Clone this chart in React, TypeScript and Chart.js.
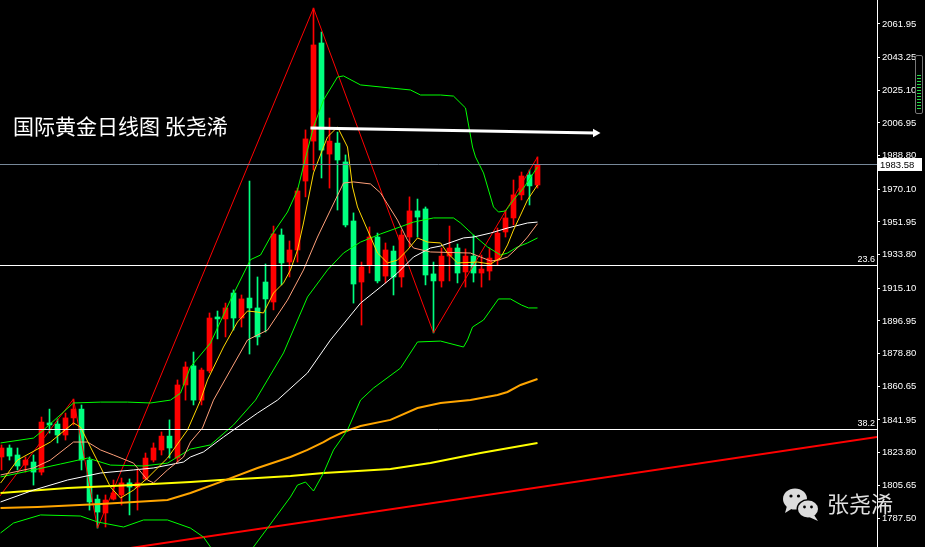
import React, { useEffect, useRef } from "react";
import { Chart, registerables } from "chart.js";
Chart.register(...registerables);

// ---- daily candles (index 0..67) ----
const OPEN = [1821.4, 1826.4, 1822.5, 1816.9, 1818.6, 1813.0, 1840.3, 1839.7, 1833.6, 1843.1,
  1848.0, 1819.7, 1798.0, 1790.3, 1798.0, 1800.3, 1807.0, 1804.7, 1809.2, 1819.7,
  1825.3, 1833.0, 1820.8, 1861.4, 1872.0, 1853.0, 1869.2, 1899.2, 1898.1, 1912.5,
  1898.6, 1909.7, 1904.2, 1918.6, 1907.5, 1944.7, 1929.7, 1936.4, 1974.7, 1996.9,
  2051.4, 1989.7, 1995.8, 1985.3, 1952.5, 1918.6, 1928.1, 1943.6, 1921.9, 1935.8,
  1921.4, 1943.6, 1958.1, 1959.2, 1923.1, 1919.2, 1933.0, 1937.5, 1924.2, 1933.0,
  1923.6, 1924.7, 1930.8, 1946.4, 1954.2, 1967.0, 1978.1, 1972.5];
const CLOSE = [1826.4, 1821.9, 1816.4, 1819.7, 1813.0, 1840.8, 1839.2, 1833.6, 1843.1, 1848.0,
  1819.7, 1796.4, 1790.8, 1797.5, 1801.4, 1807.0, 1804.7, 1807.0, 1820.8, 1826.4,
  1833.0, 1826.4, 1861.4, 1871.4, 1853.0, 1869.7, 1898.6, 1898.1, 1904.2, 1898.6,
  1909.2, 1904.2, 1888.1, 1909.2, 1945.3, 1929.2, 1936.4, 1969.2, 1998.1, 2050.3,
  1991.9, 1996.9, 1986.4, 1950.3, 1917.5, 1927.0, 1943.6, 1919.2, 1936.4, 1921.4,
  1944.7, 1958.1, 1954.7, 1922.5, 1919.2, 1933.0, 1937.5, 1923.6, 1933.0, 1923.6,
  1925.8, 1931.9, 1945.8, 1954.2, 1967.0, 1977.5, 1972.0, 1983.6];
const HIGH = [1828.1, 1828.1, 1826.4, 1821.4, 1822.5, 1843.6, 1848.0, 1842.5, 1845.8, 1853.6,
  1850.3, 1821.4, 1800.3, 1800.3, 1808.6, 1809.7, 1809.2, 1814.2, 1823.6, 1829.2,
  1835.3, 1842.0, 1864.2, 1874.2, 1879.7, 1870.8, 1901.4, 1902.5, 1906.9, 1914.2,
  1911.4, 1974.7, 1921.4, 1928.6, 1949.7, 1948.1, 1941.4, 1970.8, 2003.1, 2070.8,
  2057.5, 2009.7, 2001.9, 1989.2, 1957.0, 1929.7, 1949.2, 1945.8, 1940.3, 1938.6,
  1947.5, 1965.9, 1964.7, 1960.3, 1929.7, 1937.5, 1949.7, 1939.7, 1937.0, 1944.7,
  1933.6, 1937.5, 1948.6, 1958.6, 1975.3, 1979.7, 1980.8, 1988.1];
const LOW = [1814.2, 1819.7, 1814.2, 1813.0, 1805.8, 1811.4, 1834.7, 1829.2, 1830.8, 1839.2,
  1814.2, 1791.9, 1781.9, 1782.5, 1797.5, 1794.7, 1789.2, 1791.9, 1808.6, 1818.6,
  1822.5, 1820.8, 1818.6, 1853.0, 1850.3, 1850.3, 1868.1, 1887.0, 1888.1, 1891.9,
  1893.6, 1878.6, 1883.6, 1890.8, 1903.1, 1917.0, 1921.4, 1929.7, 1965.9, 1980.8,
  1976.4, 1970.8, 1958.6, 1949.2, 1906.9, 1894.7, 1923.6, 1918.1, 1918.1, 1911.4,
  1915.8, 1938.1, 1943.6, 1917.0, 1890.3, 1915.8, 1919.2, 1918.1, 1915.8, 1918.6,
  1915.8, 1919.7, 1928.1, 1943.6, 1950.3, 1964.2, 1961.4, 1970.8];

// ---- indicator lines: [bar index, price] ----
const MA_FAST = [[-0.12, 1806.9], [2, 1819.7], [6.12, 1829.7], [9, 1840.3], [9.88, 1838.0], [11.12, 1826.9],
  [12.38, 1815.8], [13.62, 1804.7], [14.88, 1798.6], [16.5, 1803.0], [18.25, 1809.7], [20.75, 1820.8],
  [23.25, 1836.4], [24.88, 1853.0], [25.75, 1864.2], [27.75, 1882.5], [29.5, 1896.4], [30.75, 1902.5],
  [32, 1901.9], [32.75, 1901.4], [34, 1912.5], [35.25, 1918.1], [36.12, 1925.3], [37, 1936.4],
  [37.75, 1951.4], [39, 1979.2], [40.25, 1993.6], [40.75, 1999.2], [42, 2004.7], [43.25, 1993.6],
  [43.88, 1971.4], [44.5, 1960.3], [45.75, 1947.5], [47, 1934.7], [48.25, 1929.2], [49.5, 1930.8],
  [50.75, 1936.4], [52, 1943.1], [53.25, 1940.8], [54.88, 1940.3], [55.75, 1934.7], [57, 1929.2],
  [59.5, 1929.7], [61.12, 1928.6], [62.38, 1932.0], [63.25, 1939.2], [64, 1947.5], [64.88, 1955.8],
  [65.75, 1964.2], [67, 1972.5]];
const MA_SALMON = [[-0.12, 1811.4], [4, 1815.3], [6.12, 1819.7], [9, 1829.7], [10.75, 1829.7], [12.38, 1825.3],
  [14, 1822.5], [16.5, 1818.0], [18.25, 1808.6], [19, 1807.0], [20.75, 1814.2], [22.75, 1821.4],
  [23.62, 1829.7], [25.12, 1837.5], [26.5, 1853.0], [28.62, 1869.7], [30.75, 1886.4], [33.25, 1891.9],
  [35.75, 1908.6], [37.75, 1925.3], [39.5, 1943.6], [41.12, 1958.6], [42.75, 1973.6], [44, 1974.2],
  [46.12, 1973.1], [47.38, 1968.1], [49.5, 1953.0], [50.75, 1941.9], [51.5, 1937.5], [53.62, 1935.3],
  [58.62, 1934.7], [59.88, 1932.5], [61.12, 1930.3], [62.12, 1930.8], [63.25, 1932.5], [64.88, 1939.2],
  [65.75, 1943.6], [67, 1951.0]];
const MA_WHITE = [[-0.12, 1796.4], [4, 1803.0], [8.25, 1808.6], [12.38, 1812.5], [16.5, 1814.2], [19, 1815.3],
  [22.75, 1818.6], [23.62, 1821.4], [25.25, 1824.2], [27.75, 1832.5], [32, 1845.8], [34.5, 1853.0],
  [38.25, 1868.1], [41.12, 1886.4], [44.88, 1906.9], [47.38, 1915.8], [49.5, 1923.6], [51.5, 1932.5],
  [53.62, 1937.5], [54.88, 1938.6], [57.75, 1943.1], [59, 1943.6], [61.12, 1945.8], [63.25, 1948.6],
  [65.75, 1951.4], [67, 1951.9]];
const BB_MID = [[-0.12, 1810.3], [4, 1814.2], [7.38, 1817.5], [10.75, 1820.8], [13.62, 1816.9], [17.75, 1816.4],
  [20.75, 1818.0], [23.62, 1825.8], [26.12, 1828.1], [29, 1839.2], [31.75, 1853.0], [35.25, 1879.2],
  [38.25, 1910.3], [40.75, 1925.3], [42.75, 1934.7], [44.88, 1940.8], [47.38, 1945.3], [51.5, 1951.9],
  [54, 1954.2], [56.5, 1954.2], [57.38, 1951.4], [59, 1944.7], [60.75, 1938.1], [62.38, 1933.6],
  [63.25, 1934.7], [64.5, 1938.1], [65.75, 1940.3], [67, 1943.1]];
const BB_UP = [[-0.12, 1829.2], [4, 1831.9], [5.25, 1836.4], [9, 1851.4], [12.38, 1851.9], [15.75, 1851.9],
  [18.62, 1851.4], [21.12, 1853.0], [22.38, 1856.9], [23.62, 1871.4], [26.12, 1884.7], [28.62, 1908.6],
  [31.12, 1931.0], [32.38, 1933.6], [33.62, 1943.6], [35.75, 1957.5], [37, 1969.7], [38.25, 1991.9],
  [39, 2004.7], [40.25, 2019.7], [42, 2032.5], [42.75, 2033.1], [44.88, 2028.1], [48.62, 2026.4],
  [51.12, 2025.3], [52.38, 2022.5], [54.88, 2022.5], [56.5, 2021.9], [58, 2015.3], [58.88, 1993.6],
  [59.25, 1988.1], [60.25, 1979.2], [61.5, 1960.3], [62.12, 1957.5], [63, 1958.1], [64, 1964.2],
  [65.25, 1970.8], [67, 1982.5]];
const BB_LOW = [[-0.12, 1779.2], [1.5, 1784.7], [4.88, 1789.2], [9.88, 1788.6], [12, 1785.3], [15.25, 1782.5],
  [17.75, 1786.4], [20.75, 1786.4], [23.62, 1781.9], [25.25, 1776.9], [26.12, 1771.4], [28, 1763.0],
  [30.5, 1763.0], [31.5, 1771.4], [33.25, 1781.9], [36.12, 1799.2], [37, 1805.8], [38, 1807.5],
  [39, 1802.5], [40.25, 1812.5], [41.5, 1825.3], [43.25, 1836.4], [44.88, 1853.0], [46.5, 1859.7],
  [49.88, 1870.8], [52, 1885.3], [54.88, 1885.8], [57.75, 1882.5], [58.25, 1886.4], [58.88, 1893.6],
  [60.25, 1897.5], [62.12, 1909.2], [63.62, 1909.2], [65, 1905.8], [65.88, 1904.2], [67, 1904.2]];
const MA_ORANGE = [[-0.12, 1793.0], [4.5, 1793.6], [12.38, 1795.3], [20.75, 1797.5], [23.62, 1801.4],
  [27.75, 1808.1], [32, 1815.3], [36.12, 1821.4], [38.25, 1825.3], [40.25, 1829.7], [41.12, 1831.9],
  [42.75, 1835.3], [44.88, 1838.6], [48.62, 1842.0], [52, 1848.6], [54.88, 1851.4], [58.62, 1853.0],
  [62, 1855.8], [63.25, 1857.5], [64.88, 1861.4], [67, 1864.7]];
const MA_YELLOW = [[-0.12, 1801.4], [8.25, 1804.2], [16.5, 1805.8], [23.62, 1807.5], [27.38, 1808.6],
  [32, 1809.7], [36.12, 1810.8], [40.25, 1812.5], [44.5, 1813.6], [48.62, 1814.7], [53.62, 1818.0],
  [59.88, 1823.6], [67, 1829.2]];
const ZIGZAG = [[-2, 1789.2], [9, 1853.6], [12, 1781.9], [39, 2070.8], [54, 1890.3], [67, 1988.1]];
const TRENDLINE = [[10, 1766.8], [109.5, 1832.5]];
const ARROW = [[38.62, 2004.2], [74.25, 2001.4]];

// ---- levels & axis ----
const CURRENT_PRICE = 1983.58;
const FIB_LEVELS = [1927.8, 1836.8];
const FIB_LABELS = ["23.6", "38.2"];
const Y_TICKS = [2061.95, 2043.25, 2025.10, 2006.95, 1988.80, 1970.10, 1951.95, 1933.80, 1915.10,
  1896.95, 1878.80, 1860.65, 1841.95, 1823.80, 1805.65, 1787.50];
const Y_MIN = 1771.39;
const Y_MAX = 2075.28;
const X_MIN = -0.1875;
const X_MAX = 109.4375;

const UP = "#ff0000";
const DOWN = "#00ff7f";
const BAND = "#00ff00";

const pts = (arr: number[][]) => arr.map(([x, y]) => ({ x, y }));

export default function App() {
  const ref = useRef<HTMLCanvasElement>(null);
  useEffect(() => {
    document.body.style.margin = "0";
    document.body.style.background = "#000";
    const idx = OPEN.map((_, i) => i);
    const col = (c: any) => {
      const i = c.dataIndex;
      return CLOSE[i] >= OPEN[i] ? UP : DOWN;
    };
    const line = (data: number[][], color: string, width: number, order = 0, extra: any = {}) => ({
      type: "line" as const,
      data: pts(data),
      borderColor: color,
      backgroundColor: color,
      borderWidth: width,
      pointRadius: 0,
      tension: 0,
      fill: false,
      order,
      ...extra,
    });

    const overlay = {
      id: "overlay",
      afterDraw(chart: any) {
        const { ctx, chartArea } = chart;
        const y = chart.scales.y;
        ctx.save();
        FIB_LEVELS.forEach((v, k) => {
          const py = Math.round(y.getPixelForValue(v)) + 0.5;
          ctx.strokeStyle = "#ffffff";
          ctx.lineWidth = 1;
          ctx.beginPath();
          ctx.moveTo(chartArea.left, py);
          ctx.lineTo(chartArea.right, py);
          ctx.stroke();
          ctx.fillStyle = "#ffffff";
          ctx.font = "9px 'Liberation Sans', Arial, sans-serif";
          ctx.textAlign = "right";
          ctx.textBaseline = "bottom";
          ctx.fillText(FIB_LABELS[k], chartArea.right - 2, py - 1);
        });
        const cy = Math.round(y.getPixelForValue(CURRENT_PRICE)) - 0.5;
        ctx.strokeStyle = "#778899";
        ctx.lineWidth = 1;
        ctx.beginPath();
        ctx.moveTo(chartArea.left, cy);
        ctx.lineTo(chartArea.right, cy);
        ctx.stroke();
        ctx.fillStyle = "#ffffff";
        ctx.fillRect(chartArea.right + 1, cy - 6.5, 44, 13);
        ctx.fillStyle = "#000000";
        ctx.font = "9.5px 'Liberation Sans', Arial, sans-serif";
        ctx.textAlign = "left";
        ctx.textBaseline = "middle";
        ctx.fillText(CURRENT_PRICE.toFixed(2), chartArea.right + 3, cy + 0.5);
        ctx.restore();
      },
    };

    const chart = new Chart(ref.current!, {
      type: "bar",
      data: {
        datasets: [
          line(ARROW, "#ffffff", 3, 0, {
            pointRadius: [0, 5],
            pointStyle: "triangle",
            rotation: 90,
            pointBorderWidth: 0,
          }),
          line(MA_FAST, "#ffd700", 1),
          line(MA_SALMON, "#ffa07a", 1),
          line(MA_WHITE, "#ffffff", 1),
          line(BB_UP, BAND, 1),
          line(BB_MID, BAND, 1),
          line(BB_LOW, BAND, 1),
          line(MA_ORANGE, "#ffa500", 2),
          line(MA_YELLOW, "#ffff00", 2),
          line(ZIGZAG, "#ff0000", 1),
          line(TRENDLINE, "#ff0000", 2),
          {
            type: "bar" as const,
            data: idx.map((i) => ({ x: i, y: [OPEN[i], CLOSE[i]] })) as any,
            backgroundColor: col,
            borderWidth: 0,
            barThickness: 5,
            minBarLength: 1,
            grouped: false,
            order: 5,
          },
          {
            type: "bar" as const,
            data: idx.map((i) => ({ x: i, y: [LOW[i], HIGH[i]] })) as any,
            backgroundColor: col,
            borderWidth: 0,
            barThickness: 1,
            grouped: false,
            order: 6,
          },
        ] as any,
      },
      options: {
        animation: false,
        responsive: false,
        events: [],
        layout: { padding: 0, autoPadding: false },
        plugins: { legend: { display: false }, tooltip: { enabled: false } },
        scales: {
          x: { type: "linear", display: false, min: X_MIN, max: X_MAX, offset: false },
          y: {
            position: "right",
            min: Y_MIN,
            max: Y_MAX,
            afterFit: (s: any) => {
              s.width = 48;
              s.paddingTop = 0;
              s.paddingBottom = 0;
              s.paddingLeft = 0;
              s.paddingRight = 0;
            },
            afterBuildTicks: (s: any) => { s.ticks = Y_TICKS.map((v) => ({ value: v })); },
            border: { display: true, color: "#ffffff", width: 1 },
            grid: { drawOnChartArea: false, drawTicks: true, tickLength: 3, color: "#ffffff" },
            ticks: {
              autoSkip: false,
              padding: 2,
              color: "#ffffff",
              font: { family: "'Liberation Sans', Arial, sans-serif", size: 9.5 },
              callback: (v: any) => Number(v).toFixed(2),
            },
          },
        },
      } as any,
      plugins: [overlay],
    });
    return () => chart.destroy();
  }, []);

  return (
    <div style={{ position: "fixed", left: 0, top: 0, width: 925, height: 547, background: "#000", overflow: "hidden" }}>
      <canvas ref={ref} width={925} height={547} style={{ position: "absolute", left: 0, top: 0 }} />
      <div style={{ position: "absolute", left: 13, top: 113, color: "#fff", fontSize: 21, lineHeight: "24px",
        fontFamily: "'Noto Sans CJK SC', sans-serif", whiteSpace: "nowrap" }}>
        国际黄金日线图 张尧浠
      </div>
      <svg style={{ position: "absolute", left: 781, top: 486 }} width={42} height={38} viewBox="0 0 42 38">
        <ellipse cx="14" cy="13" rx="12" ry="10.5" fill="#dcdcdc" />
        <path d="M6 20 L4 27 L12 22 Z" fill="#dcdcdc" />
        <ellipse cx="27" cy="23" rx="11.5" ry="10" fill="#000" />
        <ellipse cx="27" cy="23" rx="10" ry="8.5" fill="#dcdcdc" />
        <path d="M33 29 L37 35 L28 31 Z" fill="#dcdcdc" />
        <circle cx="10" cy="10" r="1.6" fill="#000" />
        <circle cx="17.5" cy="10" r="1.6" fill="#000" />
        <circle cx="23.5" cy="21" r="1.4" fill="#000" />
        <circle cx="30.5" cy="21" r="1.4" fill="#000" />
      </svg>
      <div style={{ position: "absolute", left: 827, top: 489, color: "#e0e0e0", fontSize: 22, lineHeight: "26px",
        fontFamily: "'Noto Sans CJK SC', sans-serif", whiteSpace: "nowrap" }}>
        张尧浠
      </div>
      <div style={{ position: "absolute", left: 915, top: 55, width: 6, height: 57, border: "1px solid #777",
        borderRadius: 2, boxSizing: "content-box" }}>
        <div style={{ position: "absolute", left: 1, top: 19, width: 4, height: 36,
          background: "repeating-linear-gradient(#22dd44 0px, #22dd44 1px, transparent 1px, transparent 3px)" }} />
      </div>
    </div>
  );
}
